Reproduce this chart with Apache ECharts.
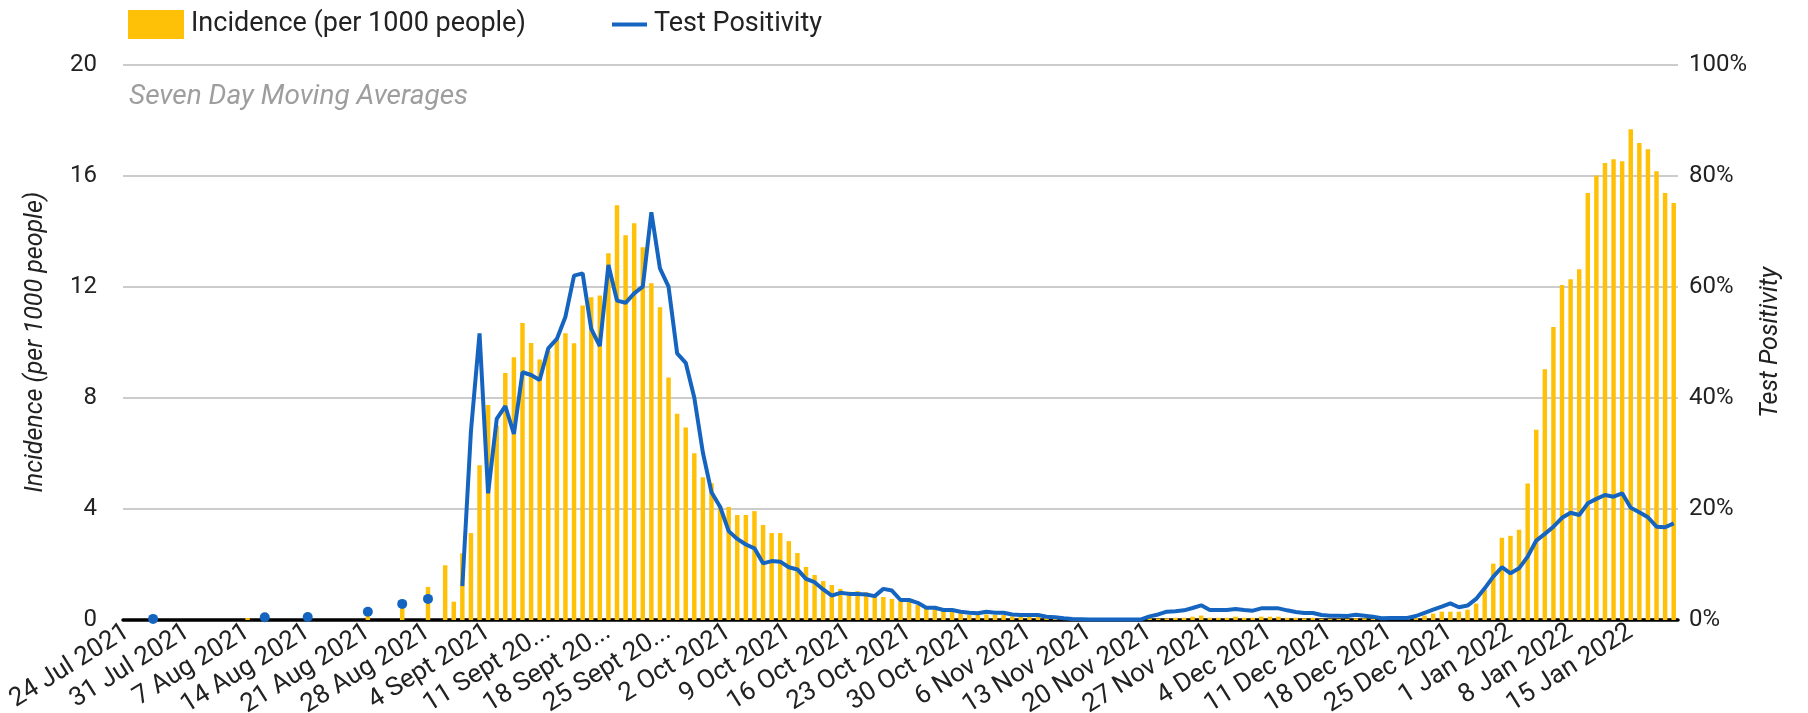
<!DOCTYPE html>
<html>
<head>
<meta charset="utf-8">
<script src="https://cdn.jsdelivr.net/npm/echarts@6/dist/echarts.min.js"></script>
<style>
  html, body { margin: 0; padding: 0; background: #fff; }
  #chart { width: 1808px; height: 713px; }
</style>
</head>
<body>
<div id="chart"></div>
<script>
// daily categories, 24 Jul 2021 .. 20 Jan 2022
var startDate = [2021, 6, 24];
var dayCount = 181;
var monthNames = ['Jan', 'Feb', 'Mar', 'Apr', 'May', 'Jun', 'Jul', 'Aug', 'Sept', 'Oct', 'Nov', 'Dec'];

// weekly tick labels as printed on the axis
var tickLabels = ['24 Jul 2021', '31 Jul 2021', '7 Aug 2021', '14 Aug 2021', '21 Aug 2021', '28 Aug 2021',
  '4 Sept 2021', '11 Sept 20...', '18 Sept 20...', '25 Sept 20...', '2 Oct 2021', '9 Oct 2021',
  '16 Oct 2021', '23 Oct 2021', '30 Oct 2021', '6 Nov 2021', '13 Nov 2021', '20 Nov 2021',
  '27 Nov 2021', '4 Dec 2021', '11 Dec 2021', '18 Dec 2021', '25 Dec 2021', '1 Jan 2022',
  '8 Jan 2022', '15 Jan 2022'];

// incidence per 1000 people (7 day avg)
var incidence = [
  0, 0, 0, 0, 0, 0, 0, 0, 0, 0,
  0, 0, 0, 0, 0.07, 0, 0, 0, 0, 0,
  0, 0, 0, 0, 0, 0, 0, 0, 0.25, 0,
  0, 0, 0.5, 0, 0, 1.19, 0, 1.97, 0.66, 2.4,
  3.13, 5.57, 7.74, 7.0, 8.89, 9.46, 10.69, 9.97, 9.38, 9.7,
  10.1, 10.32, 9.96, 11.32, 11.62, 11.68, 13.2, 14.93, 13.85, 14.28,
  13.42, 12.12, 11.26, 8.73, 7.43, 6.93, 6.0, 5.14, 4.92, 4.1,
  4.07, 3.78, 3.78, 3.92, 3.42, 3.13, 3.13, 2.84, 2.41, 1.91,
  1.62, 1.4, 1.26, 1.12, 1.02, 1.04, 1.0, 0.9, 0.83, 0.76,
  0.68, 0.66, 0.54, 0.44, 0.38, 0.32, 0.3, 0.25, 0.18, 0.18,
  0.2, 0.18, 0.18, 0.13, 0.13, 0.13, 0.12, 0.1, 0.08, 0.06,
  0.05, 0.03, 0.03, 0.03, 0.03, 0.03, 0.03, 0.03, 0.03, 0.06,
  0.05, 0.06, 0.08, 0.08, 0.12, 0.16, 0.08, 0.08, 0.08, 0.12,
  0.08, 0.08, 0.12, 0.12, 0.12, 0.08, 0.08, 0.06, 0.08, 0.04,
  0.04, 0.04, 0.04, 0.06, 0.06, 0.04, 0.04, 0.04, 0.04, 0.04,
  0.07, 0.16, 0.23, 0.3, 0.3, 0.3, 0.37, 0.59, 1.09, 2.03,
  2.96, 3.03, 3.25, 4.91, 6.85, 9.03, 10.55, 12.06, 12.27, 12.63,
  15.37, 16.0, 16.45, 16.59, 16.52, 17.67, 17.17, 16.95, 16.16, 15.37,
  15.01
];

// test positivity %, null = no data
var positivity = [
  null, null, null, 0.2, null, null, null, null, null, null,
  null, null, null, null, null, null, 0.5, null, null, null,
  null, 0.55, null, null, null, null, null, null, 1.5, null,
  null, null, 2.9, null, null, 3.8, null, null, null, 6.1,
  34.0, 51.6, 22.8, 36.2, 38.5, 33.5, 44.6, 44.1, 43.2, 48.9,
  50.6, 54.6, 62.0, 62.4, 52.4, 49.3, 63.9, 57.5, 57.1, 58.8,
  60.0, 73.4, 63.3, 60.0, 48.0, 46.3, 40.0, 30.1, 23.0, 20.4,
  16.0, 14.6, 13.6, 12.9, 10.2, 10.6, 10.5, 9.5, 9.1, 7.4,
  6.8, 5.5, 4.4, 4.9, 4.7, 4.7, 4.6, 4.3, 5.6, 5.3,
  3.6, 3.6, 3.1, 2.2, 2.2, 1.8, 1.8, 1.5, 1.3, 1.2,
  1.5, 1.3, 1.3, 1.0, 0.9, 0.9, 0.9, 0.6, 0.5, 0.3,
  0.2, 0.15, 0.1, 0.1, 0.1, 0.1, 0.1, 0.1, 0.1, 0.66,
  1.0, 1.5, 1.56, 1.74, 2.16, 2.64, 1.8, 1.8, 1.8, 1.98,
  1.8, 1.68, 2.1, 2.1, 2.1, 1.74, 1.44, 1.26, 1.26, 0.9,
  0.78, 0.78, 0.72, 0.96, 0.78, 0.6, 0.3, 0.36, 0.36, 0.36,
  0.72, 1.3, 1.85, 2.4, 3.0, 2.3, 2.6, 3.8, 5.7, 7.8,
  9.5, 8.4, 9.3, 11.4, 14.3, 15.5, 16.8, 18.4, 19.3, 18.9,
  21.0, 21.8, 22.5, 22.2, 22.8, 20.2, 19.4, 18.5, 16.8, 16.7,
  17.4
];

var categories = [];
for (var d = 0; d < dayCount; d++) {
  var dt = new Date(Date.UTC(startDate[0], startDate[1], startDate[2] + d));
  categories.push(dt.getUTCDate() + ' ' + monthNames[dt.getUTCMonth()] + ' ' + dt.getUTCFullYear());
}

// points with no neighbours get drawn as dots
var isolated = positivity.map(function (v, i) {
  return v != null && positivity[i - 1] == null && positivity[i + 1] == null;
});

var FONT = 'Roboto';
var myChart = echarts.init(document.getElementById('chart'));
myChart.setOption({
  animation: false,
  textStyle: { fontFamily: FONT },
  title: {
    text: 'Seven Day Moving Averages',
    left: 124,
    top: 78,
    textStyle: { color: '#9e9e9e', fontStyle: 'italic', fontWeight: 'normal', fontSize: 28, fontFamily: FONT }
  },
  legend: [{
    data: ['Incidence (per 1000 people)'],
    left: 123,
    top: 5,
    icon: 'rect',
    itemWidth: 56,
    itemHeight: 29,
    textStyle: { fontSize: 27, color: '#222', padding: [0, 0, 0, 2], fontFamily: FONT }
  }, {
    data: ['Test Positivity'],
    left: 607,
    top: 6,
    icon: 'rect',
    itemWidth: 35,
    itemHeight: 4,
    textStyle: { fontSize: 27, color: '#222', padding: [0, 0, 0, 2], fontFamily: FONT }
  }],
  grid: { left: 123, right: 130, top: 64.5, bottom: 93, outerBoundsMode: 'none', containLabel: false },
  xAxis: {
    type: 'category',
    data: categories,
    boundaryGap: true,
    axisTick: { show: false },
    axisLine: { lineStyle: { color: '#000', width: 3.5 } },
    axisLabel: {
      interval: 6,
      rotate: 32,
      margin: 10,
      fontSize: 26,
      color: '#222',
      fontFamily: FONT,
      formatter: function (val, idx) { return tickLabels[idx / 7] || ''; }
    }
  },
  yAxis: [{
    type: 'value',
    min: 0, max: 20, interval: 4,
    name: 'Incidence (per 1000 people)',
    nameLocation: 'middle',
    nameRotate: 90,
    nameGap: 75,
    nameTextStyle: { fontSize: 25, fontStyle: 'italic', color: '#222', fontFamily: FONT },
    axisLine: { show: false },
    axisTick: { show: false },
    axisLabel: { fontSize: 24, color: '#222', margin: 26, fontFamily: FONT },
    splitLine: { lineStyle: { color: '#cccccc', width: 2 } }
  }, {
    type: 'value',
    min: 0, max: 100, interval: 20,
    name: 'Test Positivity',
    nameLocation: 'middle',
    nameRotate: 90,
    nameGap: 80,
    nameTextStyle: { fontSize: 25, fontStyle: 'italic', color: '#222', fontFamily: FONT },
    axisLine: { show: false },
    axisTick: { show: false },
    axisLabel: { fontSize: 24, color: '#222', margin: 11, formatter: '{value}%', fontFamily: FONT },
    splitLine: { show: false }
  }],
  series: [{
    name: 'Incidence (per 1000 people)',
    type: 'bar',
    data: incidence,
    barWidth: '52%',
    itemStyle: { color: '#ffc107' }
  }, {
    name: 'Test Positivity',
    type: 'line',
    yAxisIndex: 1,
    data: positivity,
    connectNulls: false,
    showSymbol: true,
    showAllSymbol: true,
    symbol: 'circle',
    symbolSize: function (v, p) { return isolated[p.dataIndex] ? 10 : 0; },
    color: '#1565c0',
    itemStyle: { color: '#1565c0' },
    lineStyle: { color: '#1565c0', width: 4 },
    z: 3
  }]
});
</script>
</body>
</html>
